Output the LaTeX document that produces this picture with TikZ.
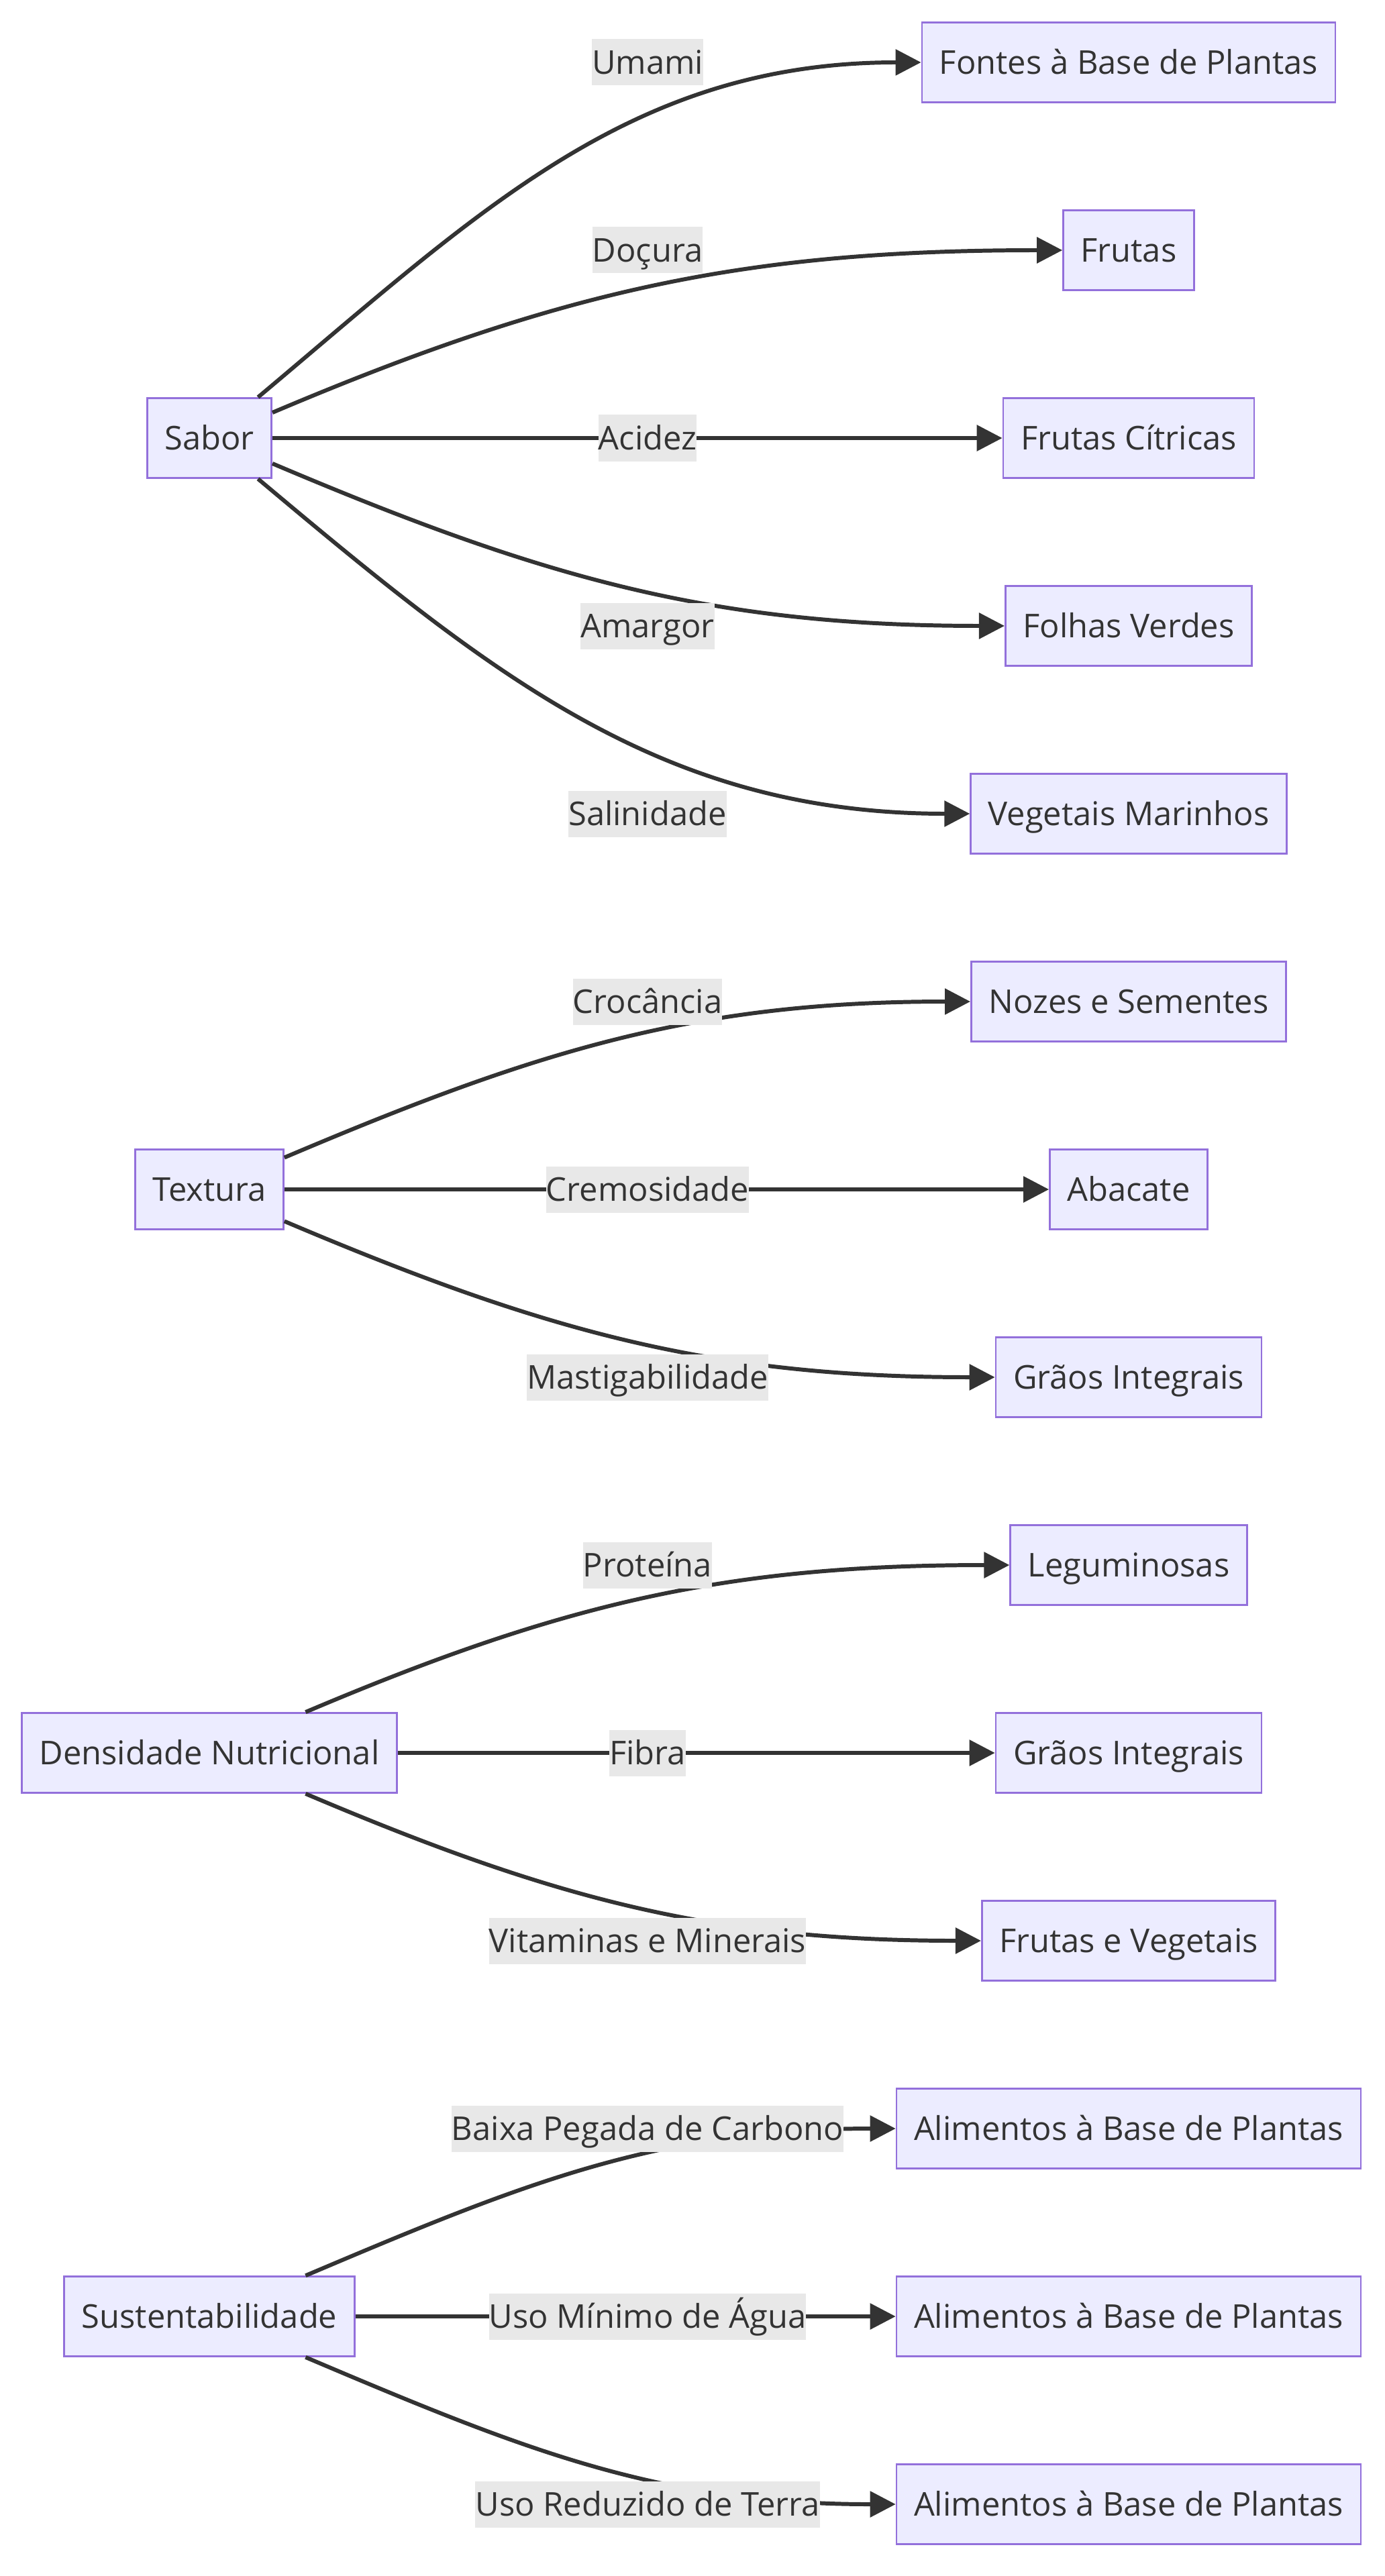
\documentclass[tikz,border=0pt]{standalone}
\usepackage{fontspec}
\setmainfont{Open Sans}
\usepackage{xcolor}
\usepackage{tikz}
\usetikzlibrary{arrows.meta}

\definecolor{boxfill}{HTML}{ECECFF}
\definecolor{boxline}{HTML}{9370DB}
\definecolor{ink}{HTML}{333333}
\definecolor{lblfill}{HTML}{E8E8E8}

\begin{document}
\begin{tikzpicture}[
  font=\fontsize{13.9}{16}\selectfont,
  box/.style={draw=boxline, fill=boxfill, line width=0.77pt, text=ink,
    minimum height=1.19cm, inner xsep=0.26cm, inner ysep=0pt,
    text height=0.35cm, text depth=0pt},
  lbl/.style={fill=lblfill, text=ink, inner sep=0pt, minimum height=0.69cm,
    text height=0.35cm, text depth=0pt},
  link/.style={draw=ink, line width=1.7pt, -{Triangle[length=0.38cm,width=0.38cm]}}
]
\useasboundingbox (0,0) rectangle (20.63,-38.40);

% Categories
\node[box] (sabor) at (3.12,-6.53) {Sabor};
\node[box] (textura) at (3.12,-17.73) {Textura};
\node[box] (densidade) at (3.12,-26.13) {Densidade Nutricional};
\node[box] (sustent) at (3.12,-34.53) {Sustentabilidade};

% Sources
\node[box] (fontes) at (16.82,-0.93) {Fontes à Base de Plantas};
\node[box] (frutas) at (16.82,-3.73) {Frutas};
\node[box] (citricas) at (16.82,-6.53) {Frutas Cítricas};
\node[box] (folhas) at (16.82,-9.33) {Folhas Verdes};
\node[box] (marinhos) at (16.82,-12.13) {Vegetais Marinhos};
\node[box] (nozes) at (16.82,-14.93) {Nozes e Sementes};
\node[box] (abacate) at (16.82,-17.73) {Abacate};
\node[box] (graos) at (16.82,-20.53) {Grãos Integrais};
\node[box] (legum) at (16.82,-23.33) {Leguminosas};
\node[box] (graosb) at (16.82,-26.13) {Grãos Integrais};
\node[box] (frutveg) at (16.82,-28.93) {Frutas e Vegetais};
\node[box] (alima) at (16.82,-31.73) {Alimentos à Base de Plantas};
\node[box] (alimb) at (16.82,-34.53) {Alimentos à Base de Plantas};
\node[box] (alimc) at (16.82,-37.33) {Alimentos à Base de Plantas};

% Links
\draw[link] (sabor.40) to[out=40,in=180] (fontes.west);
\draw[link] (sabor.22) to[out=23,in=180] (frutas.west);
\draw[link] (sabor.east) -- (citricas.west);
\draw[link] (sabor.-22) to[out=-23,in=180] (folhas.west);
\draw[link] (sabor.-40) to[out=-40,in=180] (marinhos.west);

\draw[link] (textura.23) to[out=23,in=180] (nozes.west);
\draw[link] (textura.east) -- (abacate.west);
\draw[link] (textura.-23) to[out=-23,in=180] (graos.west);

\draw[link] (densidade.23) to[out=23,in=180] (legum.west);
\draw[link] (densidade.east) -- (graosb.west);
\draw[link] (densidade.-23) to[out=-23,in=180] (frutveg.west);

\draw[link] (sustent.23) to[out=23,in=180] (alima.west);
\draw[link] (sustent.east) -- (alimb.west);
\draw[link] (sustent.-23) to[out=-23,in=180] (alimc.west);

% Edge labels
\node[lbl] (lumami) at (9.65,-0.93) {Umami};
\node[lbl] (ldocura) at (9.65,-3.73) {Doçura};
\node[lbl] (lacidez) at (9.65,-6.53) {Acidez};
\node[lbl] (lamargor) at (9.65,-9.33) {Amargor};
\node[lbl] (lsal) at (9.65,-12.13) {Salinidade};
\node[lbl] (lcroc) at (9.65,-14.93) {Crocância};
\node[lbl] (lcrem) at (9.65,-17.73) {Cremosidade};
\node[lbl] (lmast) at (9.65,-20.53) {Mastigabilidade};
\node[lbl] (lprot) at (9.65,-23.33) {Proteína};
\node[lbl] (lfibra) at (9.65,-26.13) {Fibra};
\node[lbl] (lvit) at (9.65,-28.93) {Vitaminas e Minerais};
\node[lbl] (lcarb) at (9.65,-31.73) {Baixa Pegada de Carbono};
\node[lbl] (lagua) at (9.65,-34.53) {Uso Mínimo de Água};
\node[lbl] (lterra) at (9.65,-37.33) {Uso Reduzido de Terra};
\end{tikzpicture}
\end{document}
